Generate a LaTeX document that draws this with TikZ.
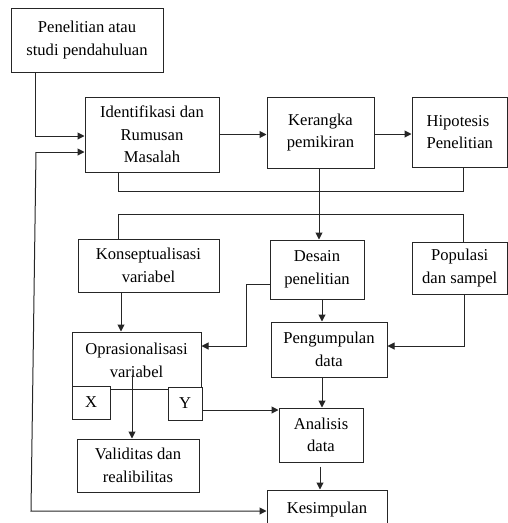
\documentclass[tikz,border=0pt]{standalone}
\usepackage{fontspec}
\setmainfont{Liberation Serif}
\usetikzlibrary{arrows.meta,calc}
\begin{document}
\begin{tikzpicture}[x=1pt,y=-1pt,
  box/.style={draw=black!85,line width=1pt,fill=white,inner sep=0pt,align=center,
    font=\fontsize{16.6}{22.5}\selectfont},
  conn/.style={draw=black!85,line width=1pt},
  arr/.style={conn,-{Triangle[length=7pt,width=7pt]}}]
\useasboundingbox (0,0) rectangle (508,523);
\clip (0,0) rectangle (508,523);
% boxes
\node[box,minimum width=152,minimum height=64] (p1) at (87,40) {Penelitian atau\\studi pendahuluan};
\node[box,minimum width=134,minimum height=75] (ident) at (152,134.5) {Identifikasi dan\\Rumusan\\Masalah};
\node[box,minimum width=107,minimum height=71] (ker) at (320.5,132.5) {Kerangka\\pemikiran};
\node[box,minimum width=95.5,minimum height=70,align=left] (hip) at (459.75,132) {Hipotesis\\Penelitian};
\node[box,minimum width=141,minimum height=53] (konsep) at (148.5,265.5) {Konseptualisasi\\variabel};
\node[box,minimum width=94,minimum height=59] (des) at (317,269.5) {Desain\\penelitian};
\node[box,minimum width=95.5,minimum height=52] (pop) at (459.75,268) {Populasi\\dan sampel};
\node[box,minimum width=129,minimum height=57] (opr) at (136.5,360.5) {Oprasionalisasi\\variabel};
\node[box,minimum width=38,minimum height=33] (X) at (91,402.5) {X};
\node[box,minimum width=34,minimum height=33] (Y) at (185,403.5) {Y};
\node[box,minimum width=116,minimum height=55] (peng) at (329,349.5) {Pengumpulan\\data};
\node[box,minimum width=122,minimum height=53] (val) at (138,465.5) {Validitas dan\\realibilitas};
\node[box,minimum width=84,minimum height=54] (ana) at (321,435) {Analisis\\data};
\node[box,minimum width=120,minimum height=60] (kes) at (327,520) {\raisebox{24pt}{Kesimpulan}};
% helper coordinates
\coordinate (a1) at (35,136);
\coordinate (a2) at (36,152);
\coordinate (a3) at (31,511);
\coordinate (b1) at (118,191);
\coordinate (b2) at (463,191);
\coordinate (b3) at (118,214);
\coordinate (b4) at (463,214);
\coordinate (c1) at (246,284);
\coordinate (c2) at (246,346);
\coordinate (e1) at (464,346);
\coordinate (o1) at (132,375);
\coordinate (f1) at (0,410);
% connectors
\draw[arr] (p1.south -| a1) -- (a1) -- (ident.west |- a1);
\draw[arr] (a2) -- (ident.west |- a2);
\draw[arr] (a2) -- (a3) -- (kes.west |- a3);
\draw[arr] (ident.east) -- (ident.east -| ker.west);
\draw[arr] (ker.east |- 0,134) -- (hip.west |- 0,134);
\draw[conn] (ident.south -| b1) -- (b1) -- (b2) -- (hip.south -| b2);
\draw[arr] (ker.south -| 319,0) -- (des.north -| 319,0);
\draw[conn] (konsep.north -| b3) -- (b3) -- (b4) -- (pop.north -| b4);
\draw[arr] (konsep.south -| 121,0) -- (opr.north -| 121,0);
\draw[arr] (des.west |- c1) -- (c1) -- (c2) -- (opr.east |- c2);
\draw[arr] (des.south -| 322,0) -- (peng.north -| 322,0);
\draw[arr] (pop.south -| e1) -- (e1) -- (peng.east |- e1);
\draw[arr] (peng.south -| 322,0) -- (ana.north -| 322,0);
\draw[arr] ([yshift=-4pt]ana.south -| 320,0) -- (kes.north -| 320,0);
\draw[arr] (o1) -- (val.north -| o1);
\draw[arr] (Y.east |- f1) -- (ana.west |- f1);
\end{tikzpicture}
\end{document}
